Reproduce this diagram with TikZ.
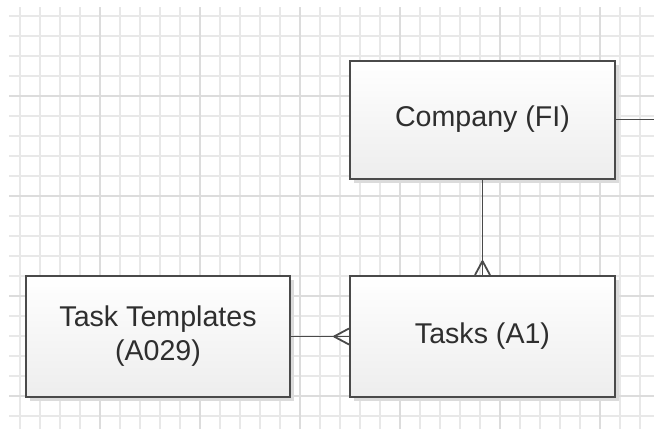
\documentclass[tikz,border=0pt]{standalone}
\usepackage{fontspec}
\setmainfont{Liberation Sans}
\usetikzlibrary{calc,shadows}

\definecolor{gridminor}{HTML}{E8E8E8}
\definecolor{gridmajor}{HTML}{DCDCDC}
\definecolor{edgegray}{HTML}{4A4A4A}

\begin{document}
\begin{tikzpicture}[x=0.5pt,y=-0.5pt,
    entity/.style={draw=edgegray, line width=1pt, top color=white, bottom color=black!7,
        minimum width=132.5pt, font=\fontsize{14.3}{17}\selectfont, text=black!82,
        align=center, inner sep=0pt,
        drop shadow={shadow xshift=2.2pt, shadow yshift=-2.2pt, fill=black!14, opacity=1}},
    link/.style={draw=edgegray, line width=0.9pt}]
    \useasboundingbox (0,0) rectangle (654,429);
    % grid
    \foreach \x in {20,40,...,640}
        \draw [gridminor, line width=0.75pt] (\x,7) -- (\x,429);
    \foreach \y in {16,36,...,416}
        \draw [gridminor, line width=0.75pt] (9,\y) -- (654,\y);
    \foreach \x in {100,200,...,600}
        \draw [gridmajor, line width=0.75pt] (\x,7) -- (\x,429);
    \foreach \y in {96,196,...,396}
        \draw [gridmajor, line width=0.75pt] (9,\y) -- (654,\y);
    % entities
    \node [entity, minimum height=59pt] (company) at (482.5,119.5) {Company (FI)};
    \node [entity, minimum height=60.5pt] (tasks) at (482.5,336.5) {Tasks (A1)};
    \node [entity, minimum height=60.5pt, minimum width=132pt] (templates) at (158,336.5) {Task Templates\\(A029)};
    \coordinate (offpage) at (654,119.5);
    % relations
    \draw [link] (company.east) -- (offpage);
    \draw [link] (company.south) -- (tasks.north);
    \draw [link] ($(tasks.north)+(0,-14)$) -- ($(tasks.north)+(-7.5,0)$);
    \draw [link] ($(tasks.north)+(0,-14)$) -- ($(tasks.north)+(7.5,0)$);
    \draw [link] (templates.east) -- (tasks.west);
    \draw [link] ($(tasks.west)+(-15,0)$) -- ($(tasks.west)+(0,-8)$);
    \draw [link] ($(tasks.west)+(-15,0)$) -- ($(tasks.west)+(0,8)$);
\end{tikzpicture}
\end{document}
